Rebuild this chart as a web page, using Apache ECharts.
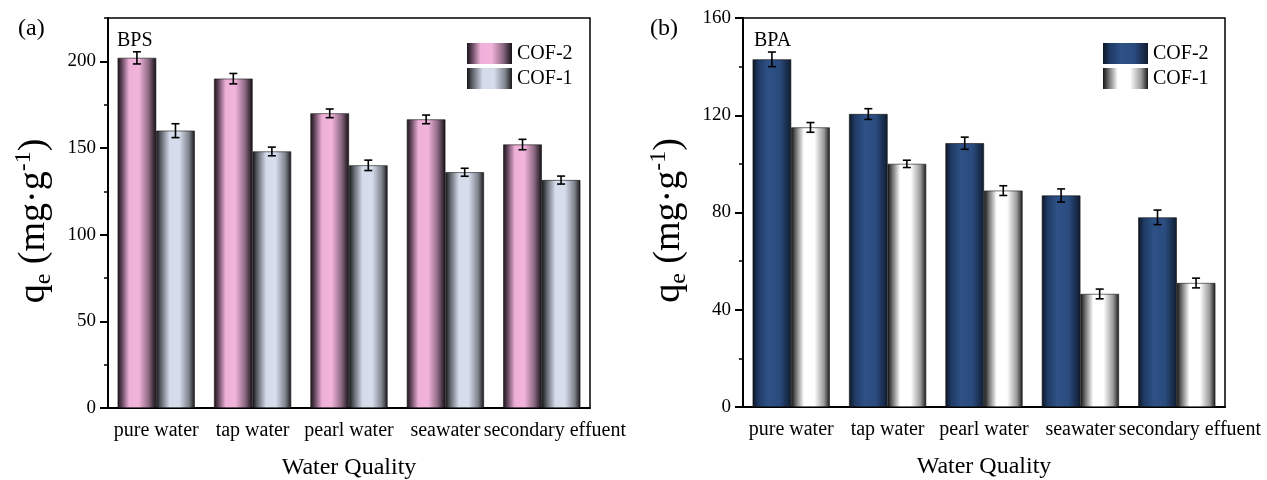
<!DOCTYPE html>
<html>
<head>
<meta charset="utf-8">
<script src="https://cdn.jsdelivr.net/npm/echarts@6/dist/echarts.min.js"></script>
<style>
  html, body { margin: 0; padding: 0; background: #fff; }
  #chart { width: 1267px; height: 480px; }
</style>
</head>
<body>
<div id="chart"></div>
<script>
// Adsorption capacity q_e (mg/g) in different water matrices
const categories = ['pure water', 'tap water', 'pearl water', 'seawater', 'secondary effuent'];

// (a) BPS
const bpsCof2 = [202, 190, 170, 166.5, 152];
const bpsCof2Err = [3.5, 3, 2.5, 2.5, 3];
const bpsCof1 = [160, 148, 140, 136, 131.5];
const bpsCof1Err = [4, 2.5, 3, 2.3, 2.3];

// (b) BPA
const bpaCof2 = [143, 120.5, 108.5, 87, 78];
const bpaCof2Err = [3, 2.2, 2.5, 2.7, 3];
const bpaCof1 = [115, 100, 89, 46.5, 51];
const bpaCof1Err = [2, 1.5, 2, 2, 2];

// Axis ticks
const bpsTicks = [0, 50, 100, 150, 200];
const bpaTicks = [0, 40, 80, 120, 160];

const FONT = "'Liberation Serif', 'Times New Roman', serif";

function hGrad(stops) {
  return new echarts.graphic.LinearGradient(0, 0, 1, 0,
    stops.map(function (s) { return { offset: s[0], color: s[1] }; }));
}

const pinkFill = hGrad([[0, '#1c141a'], [0.1, '#5a3f55'], [0.3, '#eeb0d8'], [0.55, '#f2b4db'], [0.8, '#8e6a84'], [1, '#141014']]);
const steelFill = hGrad([[0, '#141416'], [0.12, '#5c6068'], [0.35, '#d4dbea'], [0.6, '#d6ddec'], [0.85, '#7e838c'], [1, '#18181a']]);
const navyFill = hGrad([[0, '#0c1524'], [0.15, '#1f3a64'], [0.4, '#2e5187'], [0.7, '#2a4b7e'], [1, '#101c30']]);
const whiteFill = hGrad([[0, '#111111'], [0.14, '#7a7a7a'], [0.33, '#ffffff'], [0.6, '#ffffff'], [0.85, '#9a9a9a'], [1, '#1a1a1a']]);

const axisLineStyle = { color: '#000', width: 2 };

function xAxes(g) {
  return [
    {
      type: 'category', gridIndex: g, position: 'bottom', data: categories,
      axisLine: { lineStyle: axisLineStyle },
      axisTick: { alignWithLabel: true, length: 6, lineStyle: { color: '#000', width: 2 } },
      axisLabel: {
        interval: 0, fontFamily: FONT, fontSize: 20, color: '#000', margin: 13,
        formatter: function (v, i) { return i === categories.length - 1 ? '{r|' + v + '}' : v; },
        rich: { r: { fontFamily: FONT, fontSize: 20, color: '#000', padding: [0, 0, 0, 26] } }
      },
      name: 'Water Quality', nameLocation: 'middle', nameGap: 48,
      nameTextStyle: { fontFamily: FONT, fontSize: 24, color: '#000' }
    },
    {
      // short ticks on category boundaries
      type: 'category', gridIndex: g, position: 'bottom', data: categories,
      axisLine: { show: false },
      axisTick: { length: 3, lineStyle: { color: '#000', width: 1.5 } },
      axisLabel: { show: false }, splitLine: { show: false }
    }
  ];
}

function yAxes(g, max, ticks, minorStep) {
  return [
    {
      type: 'value', gridIndex: g, position: 'left', min: 0, max: max, interval: ticks[1] - ticks[0],
      axisLine: { show: true, lineStyle: axisLineStyle },
      axisTick: { show: true, length: 8, customValues: ticks, lineStyle: { color: '#000', width: 2 } },
      axisLabel: { customValues: ticks, fontFamily: FONT, fontSize: 19, color: '#000', margin: 12 },
      splitLine: { show: false },
      name: '{t|q}{sub|e}{t| (mg·g}{sup|-1}{t|)}',
      nameLocation: 'middle', nameGap: 52,
      nameTextStyle: {
        fontFamily: FONT, fontSize: 38, color: '#000', padding: [0, 16, 0, 0],
        rich: {
          t: { fontFamily: FONT, fontSize: 38, color: '#000', lineHeight: 44 },
          sub: { fontFamily: FONT, fontSize: 24, color: '#000', lineHeight: 24, verticalAlign: 'bottom' },
          sup: { fontFamily: FONT, fontSize: 24, color: '#000', lineHeight: 24, verticalAlign: 'top' }
        }
      }
    },
    {
      // minor ticks
      type: 'value', gridIndex: g, position: 'left', min: 0, max: max, interval: minorStep,
      axisLine: { show: false },
      axisTick: { show: true, length: 4, lineStyle: { color: '#000', width: 1.5 } },
      axisLabel: { show: false }, splitLine: { show: false }
    }
  ];
}

// error bar drawn at the centre of the left (-1) or right (+1) bar of a group
function errorBar(side) {
  return function (params, api) {
    const idx = api.value(0);
    const v = api.value(1);
    const e = api.value(2);
    const band = api.size([1, 0])[0];
    const barW = band * 0.8 / 2;
    const x = api.coord([idx, 0])[0] + side * barW / 2;
    const yTop = api.coord([idx, v + e])[1];
    const yBot = api.coord([idx, v - e])[1];
    const hw = 4;
    const style = { stroke: '#000', lineWidth: 1.6 };
    return {
      type: 'group',
      children: [
        { type: 'line', shape: { x1: x, y1: yTop, x2: x, y2: yBot }, style: style },
        { type: 'line', shape: { x1: x - hw, y1: yTop, x2: x + hw, y2: yTop }, style: style },
        { type: 'line', shape: { x1: x - hw, y1: yBot, x2: x + hw, y2: yBot }, style: style }
      ]
    };
  };
}

function barSeries(name, xi, yi, values, fill) {
  return {
    type: 'bar', name: name, xAxisIndex: xi, yAxisIndex: yi, data: values,
    barGap: '0%', barCategoryGap: '20%',
    itemStyle: { color: fill, borderColor: '#111', borderWidth: 0.6 },
    emphasis: { disabled: true }
  };
}

function errSeries(xi, yi, values, errs, side) {
  return {
    type: 'custom', xAxisIndex: xi, yAxisIndex: yi, z: 10, silent: true,
    encode: { x: 0, y: 1 },
    data: values.map(function (v, i) { return [i, v, errs[i]]; }),
    renderItem: errorBar(side)
  };
}

function legendFor(prefix, left) {
  return {
    data: [prefix + ' COF-2', prefix + ' COF-1'],
    formatter: function (n) { return n.replace(prefix + ' ', ''); },
    orient: 'vertical', left: left, top: 43, padding: 0,
    itemWidth: 45, itemHeight: 21, itemGap: 4, icon: 'rect',
    itemStyle: { borderWidth: 0 },
    selectedMode: false,
    textStyle: { fontFamily: FONT, fontSize: 20, color: '#000' }
  };
}

const chart = echarts.init(document.getElementById('chart'), null, { renderer: 'canvas' });

chart.setOption({
  animation: false,
  backgroundColor: '#fff',
  grid: [
    { left: 108, top: 18, width: 482, height: 390, outerBoundsMode: 'none', containLabel: false,
      show: true, borderColor: '#000', borderWidth: 1.5 },
    { left: 743, top: 18, width: 482, height: 389, outerBoundsMode: 'none', containLabel: false,
      show: true, borderColor: '#000', borderWidth: 1.5 }
  ],
  xAxis: xAxes(0).concat(xAxes(1)),
  yAxis: yAxes(0, 225, bpsTicks, 25).concat(yAxes(1, 160, bpaTicks, 20)),
  legend: [legendFor('BPS', 467), legendFor('BPA', 1103)],
  series: [
    barSeries('BPS COF-2', 0, 0, bpsCof2, pinkFill),
    barSeries('BPS COF-1', 0, 0, bpsCof1, steelFill),
    errSeries(0, 0, bpsCof2, bpsCof2Err, -1),
    errSeries(0, 0, bpsCof1, bpsCof1Err, 1),
    barSeries('BPA COF-2', 2, 2, bpaCof2, navyFill),
    barSeries('BPA COF-1', 2, 2, bpaCof1, whiteFill),
    errSeries(2, 2, bpaCof2, bpaCof2Err, -1),
    errSeries(2, 2, bpaCof1, bpaCof1Err, 1)
  ],
  graphic: [
    { type: 'text', left: 18, top: 17, style: { text: '(a)', fontFamily: FONT, fontSize: 24, fill: '#000' } },
    { type: 'text', left: 650, top: 17, style: { text: '(b)', fontFamily: FONT, fontSize: 24, fill: '#000' } },
    { type: 'text', left: 117, top: 31, style: { text: 'BPS', fontFamily: FONT, fontSize: 20, fill: '#000' } },
    { type: 'text', left: 754, top: 31, style: { text: 'BPA', fontFamily: FONT, fontSize: 20, fill: '#000' } }
  ]
});
</script>
</body>
</html>
